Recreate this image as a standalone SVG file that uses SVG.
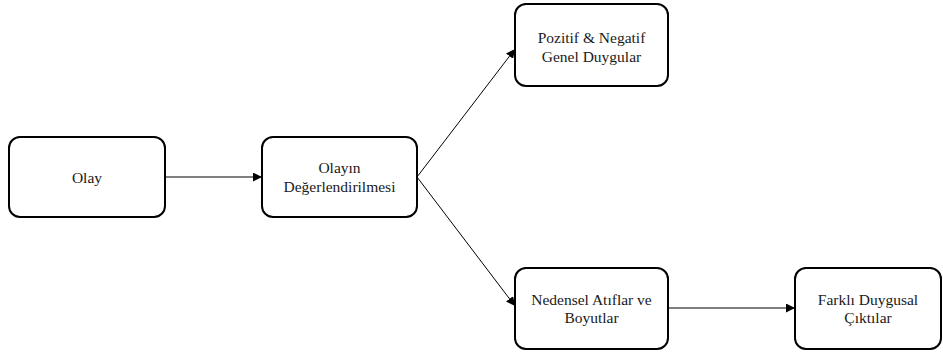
<svg xmlns="http://www.w3.org/2000/svg" width="943" height="358" viewBox="0 0 943 358">
  <style>
    .box { fill: #ffffff; stroke: #000000; stroke-width: 2; }
    .lbl { font-size: 15.5px; fill: #1a1a1a; text-anchor: middle; }
    .edge { fill: none; stroke: #000000; stroke-width: 1; marker-end: url(#arrow); }
  </style>
  <defs>
    <marker id="arrow" viewBox="0 0 10 10" refX="10" refY="5" markerWidth="9" markerHeight="9" markerUnits="userSpaceOnUse" orient="auto">
      <path d="M0,0 L10,5 L0,10 z" fill="#000000"/>
    </marker>
  </defs>

  <rect width="943" height="358" fill="#ffffff"/>

  <g id="connectors">
    <line class="edge" x1="165" y1="177" x2="262" y2="177"/>
    <line class="edge" x1="417" y1="177" x2="515" y2="49"/>
    <line class="edge" x1="417" y1="177" x2="515" y2="306"/>
    <line class="edge" x1="668" y1="308" x2="795" y2="308"/>
  </g>

  <g font-family="Liberation Serif, DejaVu Serif, serif">
    <g id="olay">
      <rect class="box" x="9" y="137" width="156" height="80" rx="11"/>
      <text class="lbl" x="87" y="183">Olay</text>
    </g>

    <g id="olayin-degerlendirilmesi">
      <rect class="box" x="262" y="137" width="155" height="80" rx="11"/>
      <text class="lbl" x="339.5" y="173">Olayın</text>
      <text class="lbl" x="339.5" y="192">Değerlendirilmesi</text>
    </g>

    <g id="pozitif-negatif">
      <rect class="box" x="515" y="4" width="153" height="82" rx="11"/>
      <text class="lbl" x="591.5" y="43">Pozitif &amp; Negatif</text>
      <text class="lbl" x="591.5" y="62">Genel Duygular</text>
    </g>

    <g id="nedensel-atiflar">
      <rect class="box" x="515" y="268" width="153" height="81" rx="11"/>
      <text class="lbl" x="591.5" y="305">Nedensel Atıflar ve</text>
      <text class="lbl" x="591.5" y="323">Boyutlar</text>
    </g>

    <g id="farkli-duygusal">
      <rect class="box" x="795" y="268" width="146" height="81" rx="11"/>
      <text class="lbl" x="868" y="305">Farklı Duygusal</text>
      <text class="lbl" x="868" y="323">Çıktılar</text>
    </g>
  </g>
</svg>
